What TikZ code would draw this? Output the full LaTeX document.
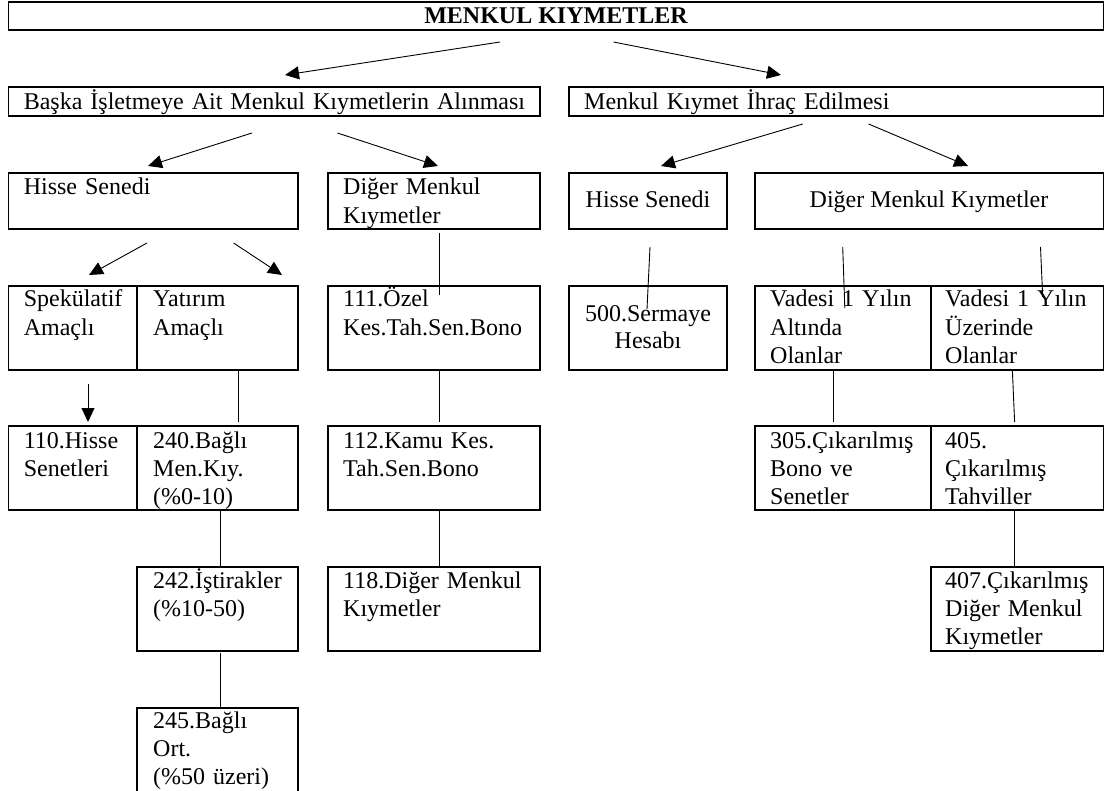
\documentclass[tikz,border=0pt]{standalone}
\usepackage{fontspec}
\setmainfont{Liberation Serif}
\usetikzlibrary{fit,arrows.meta}
\newcommand{\fs}{\fontsize{24}{28.3}\selectfont}
\tikzset{
  box/.style={draw, line width=1.4pt, inner sep=0pt},
  txt/.style={anchor=base west, inner sep=0pt, align=left, text width=620pt, font=\fs},
  ctxt/.style={anchor=base, inner sep=0pt, align=center, font=\fs},
  arr/.style={line width=0.9pt, -{Triangle[length=14pt,width=13pt]}},
  ln/.style={line width=0.9pt}
}
\begin{document}
\begin{tikzpicture}[x=1pt,y=-1pt]
\useasboundingbox (0,0) rectangle (1105,791);
% boxes
\node[box, fit={(8.6,2) (1103.5,30)}] (top) {};
\node[box, fit={(8.6,87) (540,116)}] (baska) {};
\node[box, fit={(569,87) (1103.5,116)}] (ihrac) {};
\node[box, fit={(8.6,173) (298,229)}] (hsL) {};
\node[box, fit={(328,173) (540,229)}] (dmkL) {};
\node[box, fit={(8.6,286) (137,370)}] (spek) {};
\node[box, fit={(137,286) (298,370)}] (yat) {};
\node[box, fit={(328,286) (540,370)}] (b111) {};
\node[box, fit={(8.6,426) (137,510)}] (b110) {};
\node[box, fit={(137,426) (298,510)}] (b240) {};
\node[box, fit={(328,426) (540,510)}] (b112) {};
\node[box, fit={(137,567) (298,651)}] (b242) {};
\node[box, fit={(328,567) (540,651)}] (b118) {};
\node[box, fit={(137,708) (298,800)}] (b245) {};
\node[box, fit={(569,173) (727,229)}] (hsR) {};
\node[box, fit={(755,173) (1103.5,229)}] (dmkR) {};
\node[box, fit={(569,286) (727,370)}] (b500) {};
\node[box, fit={(755,286) (931,370)}] (vad1) {};
\node[box, fit={(931,286) (1103.5,370)}] (vad2) {};
\node[box, fit={(755,426) (931,510)}] (b305) {};
\node[box, fit={(931,426) (1103.5,510)}] (b405) {};
\node[box, fit={(931,567) (1103.5,651)}] (b407) {};
% texts
\node[ctxt, font=\fs\bfseries] (ttop) at (556,24) {MENKUL KIYMETLER};
\node[txt] (tbaska) at (23.6,110) {Başka İşletmeye Ait Menkul Kıymetlerin Alınması};
\node[txt] (tihrac) at (584,110) {Menkul Kıymet İhraç Edilmesi};
\node[txt] (thsL) at (23.6,195) {Hisse Senedi};
\node[txt] (tdmkL) at (343,195) {Diğer Menkul\\Kıymetler};
\node[txt] (tspek) at (23.6,307) {Spekülatif\\Amaçlı};
\node[txt] (tyat) at (153,307) {Yatırım\\Amaçlı};
\node[txt] (t111) at (343,307) {111.Özel\\Kes.Tah.Sen.Bono};
\node[txt] (t110) at (23.6,448) {110.Hisse\\Senetleri};
\node[txt] (t240) at (153,448) {240.Bağlı\\Men.Kıy.\\(\%0-10)};
\node[txt] (t112) at (343,448) {112.Kamu Kes.\\Tah.Sen.Bono};
\node[txt] (t242) at (153,588) {242.İştirakler\\(\%10-50)};
\node[txt] (t118) at (343,588) {118.Diğer Menkul\\Kıymetler};
\node[txt] (t245) at (153,728) {245.Bağlı\\Ort.\\(\%50 üzeri)};
\node[ctxt] (thsR) at (648,208) {Hisse Senedi};
\node[ctxt] (tdmkR) at (929,208) {Diğer Menkul Kıymetler};
\node[ctxt, text width=158pt, font=\fontsize{24}{27}\selectfont] (t500) at (648,322) {500.Sermaye\\Hesabı};
\node[txt] (tvad1) at (770,307) {Vadesi 1 Yılın\\Altında\\Olanlar};
\node[txt] (tvad2) at (945,307) {Vadesi 1 Yılın\\Üzerinde\\Olanlar};
\node[txt] (t305) at (770,448) {305.Çıkarılmış\\Bono ve\\Senetler};
\node[txt] (t405) at (945,448) {405.\\Çıkarılmış\\Tahviller};
\node[txt] (t407) at (945,588) {407.Çıkarılmış\\Diğer Menkul\\Kıymetler};
% arrow ends
\coordinate (a1s) at (500,42); \coordinate (a1e) at (285,75);
\coordinate (a2s) at (613.5,42); \coordinate (a2e) at (781,75);
\coordinate (a3s) at (252,133); \coordinate (a3e) at (148,166);
\coordinate (a4s) at (337.5,133); \coordinate (a4e) at (438,166);
\coordinate (a5s) at (147,243); \coordinate (a5e) at (89,275);
\coordinate (a6s) at (233.6,243); \coordinate (a6e) at (282,275);
\coordinate (a7s) at (88,384); \coordinate (a7e) at (88,422);
\coordinate (a8s) at (802.7,124); \coordinate (a8e) at (661,166);
\coordinate (a9s) at (868.6,124); \coordinate (a9e) at (968,166);
\foreach \i in {1,...,9} { \draw[arr] (a\i s) -- (a\i e); }
% line ends
\coordinate (l1s) at (439,233); \coordinate (l1e) at (439,295);
\coordinate (l2s) at (238,370); \coordinate (l2e) at (238,422);
\coordinate (l3s) at (439,370); \coordinate (l3e) at (439,422);
\coordinate (l4s) at (220,510); \coordinate (l4e) at (220,567);
\coordinate (l5s) at (439,510); \coordinate (l5e) at (439,567);
\coordinate (l6s) at (220,653); \coordinate (l6e) at (220,708);
\coordinate (l7s) at (650,247); \coordinate (l7e) at (647,309);
\coordinate (l8s) at (842.7,247); \coordinate (l8e) at (844.8,308);
\coordinate (l9s) at (1040.5,247); \coordinate (l9e) at (1042.7,297);
\coordinate (l10s) at (833,371); \coordinate (l10e) at (833,422);
\coordinate (l11s) at (1012.4,371); \coordinate (l11e) at (1014.6,422);
\coordinate (l12s) at (1014.6,510); \coordinate (l12e) at (1014.6,568);
\foreach \i in {1,...,12} { \draw[ln] (l\i s) -- (l\i e); }
\end{tikzpicture}
\end{document}
